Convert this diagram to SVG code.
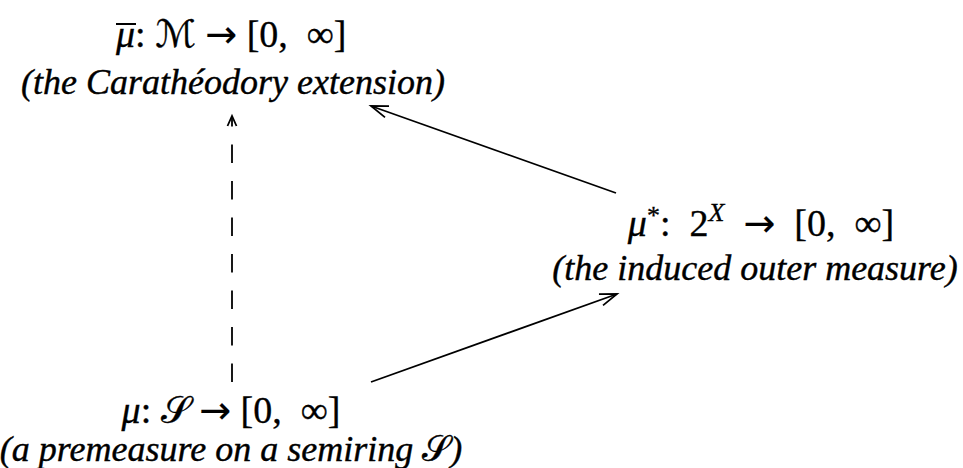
<svg xmlns="http://www.w3.org/2000/svg" width="963" height="468" viewBox="0 0 963 468">
<style>
.math{font-family:"Liberation Serif","Times New Roman",serif;font-size:38px;fill:#000;stroke:#000;stroke-width:0.35;}
.it{font-style:italic;}
.sub{font-family:"Liberation Serif","Times New Roman",serif;font-size:36px;font-style:italic;fill:#000;stroke:#000;stroke-width:0.4;}
.scr{font-family:"DejaVu Serif","DejaVu Sans",serif;font-style:normal;}
.arr{font-family:"DejaVu Sans",sans-serif;font-size:38px;stroke-width:0.2;}
.conn{fill:none;stroke:#000;stroke-width:1.8;}
.bar{stroke:#000;stroke-width:2;}
</style>
<defs>
<marker id="ah" markerUnits="userSpaceOnUse" markerWidth="24" markerHeight="16" refX="17" refY="6" orient="auto" overflow="visible">
<path d="M0,0 L17,6 L0,12" fill="none" stroke="#000" stroke-width="1.8"/>
</marker>
<marker id="ahs" markerUnits="userSpaceOnUse" markerWidth="14" markerHeight="12" refX="10" refY="4.5" orient="auto" overflow="visible">
<path d="M0,0 L10,4.5 L0,9" fill="none" stroke="#000" stroke-width="1.8"/>
</marker>
</defs>
<g id="connectors">
<path class="conn" d="M232,382 L232,116" stroke-dasharray="18.5 18" marker-end="url(#ahs)"/>
<path class="conn" d="M616,193 L371,106" marker-end="url(#ah)"/>
<path class="conn" d="M371,382 L617,294" marker-end="url(#ah)"/>
</g>
<g id="node-caratheodory">
<text class="math" x="116" y="47"><tspan class="it">μ</tspan>: <tspan class="scr">ℳ</tspan> <tspan class="arr">→</tspan> [0,&#160; ∞]</text>
<line class="bar" x1="116" y1="24" x2="136" y2="24"/>
<text class="sub" x="233" y="94" text-anchor="middle">(the Carathéodory extension)</text>
</g>
<g id="node-outer">
<text class="math" x="761" y="236" text-anchor="middle"><tspan class="it">μ</tspan><tspan dy="-12" font-size="26">*</tspan><tspan dy="12">:&#160; 2</tspan><tspan class="it" dy="-15" font-size="26">X</tspan><tspan dy="15">&#160; </tspan><tspan class="arr">→</tspan>&#160; [0,&#160; ∞]</text>
<text class="sub" x="755" y="280" text-anchor="middle">(the induced outer measure)</text>
</g>
<g id="node-premeasure">
<text class="math" x="231" y="423" text-anchor="middle"><tspan class="it">μ</tspan>: <tspan class="scr">𝒮</tspan> <tspan class="arr">→</tspan> [0,&#160; ∞]</text>
<text class="sub" x="231" y="461" text-anchor="middle">(a premeasure on a semiring <tspan class="scr">𝒮</tspan>)</text>
</g>
</svg>
